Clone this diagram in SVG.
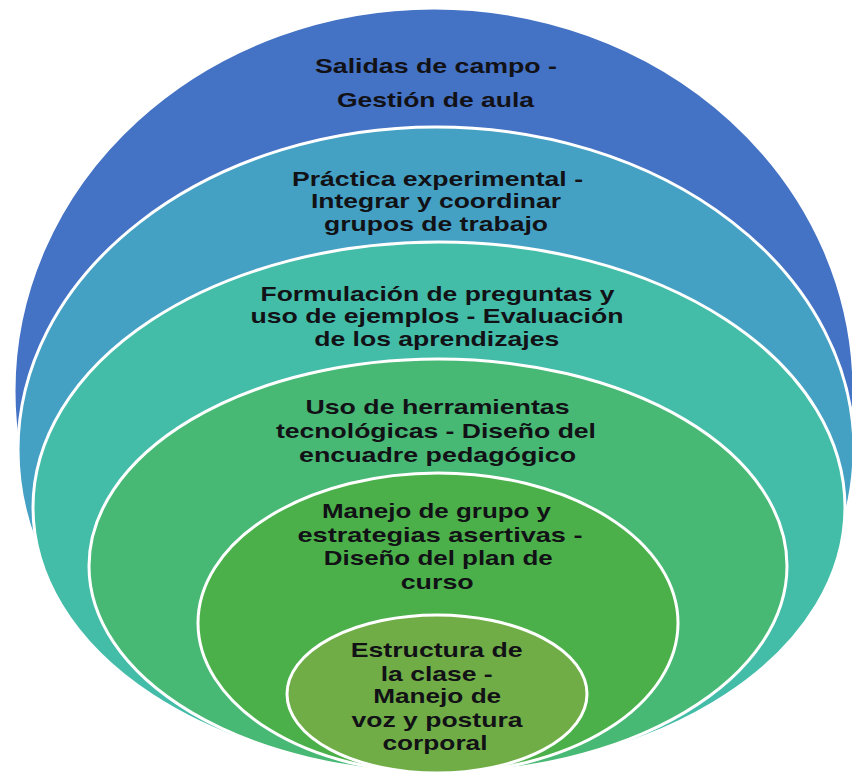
<svg xmlns="http://www.w3.org/2000/svg" width="852" height="778" viewBox="0 0 852 778">
<style>
.ring{stroke:#ffffff;stroke-width:3}
.lbl{font-family:"Liberation Sans",Arial,sans-serif;font-weight:bold;font-size:21px;fill:#111116;text-anchor:middle}
</style>
<rect x="0" y="0" width="852" height="778" fill="#ffffff"/>
<g id="connectors"></g>
<g id="n1">
<ellipse class="ring" cx="434" cy="391" rx="420" ry="383" fill="#4472C4"/>
<text class="lbl" x="436" y="73" textLength="242" lengthAdjust="spacingAndGlyphs">Salidas de campo -</text>
<text class="lbl" x="435.5" y="107" textLength="197" lengthAdjust="spacingAndGlyphs">Gestión de aula</text>
</g>
<g id="n2">
<ellipse class="ring" cx="436" cy="450" rx="418" ry="323" fill="#44A1C4"/>
<text class="lbl" x="437.5" y="185.5" textLength="291" lengthAdjust="spacingAndGlyphs">Práctica experimental -</text>
<text class="lbl" x="436" y="207.7" textLength="250" lengthAdjust="spacingAndGlyphs">Integrar y coordinar</text>
<text class="lbl" x="436" y="230.5" textLength="224" lengthAdjust="spacingAndGlyphs">grupos de trabajo</text>
</g>
<g id="n3">
<ellipse class="ring" cx="439" cy="507.5" rx="406" ry="265.5" fill="#43BCA8"/>
<text class="lbl" x="437.5" y="300.5" textLength="354" lengthAdjust="spacingAndGlyphs">Formulación de preguntas y</text>
<text class="lbl" x="437" y="323.3" textLength="373" lengthAdjust="spacingAndGlyphs">uso de ejemplos - Evaluación</text>
<text class="lbl" x="436.7" y="346" textLength="245" lengthAdjust="spacingAndGlyphs">de los aprendizajes</text>
</g>
<g id="n4">
<ellipse class="ring" cx="438" cy="566" rx="349" ry="207" fill="#48B875"/>
<text class="lbl" x="437.5" y="414" textLength="264" lengthAdjust="spacingAndGlyphs">Uso de herramientas</text>
<text class="lbl" x="436" y="437.7" textLength="320" lengthAdjust="spacingAndGlyphs">tecnológicas - Diseño del</text>
<text class="lbl" x="437.5" y="461.5" textLength="277" lengthAdjust="spacingAndGlyphs">encuadre pedagógico</text>
</g>
<g id="n5">
<ellipse class="ring" cx="438" cy="623" rx="240" ry="150" fill="#4BB04A"/>
<text class="lbl" x="436.5" y="517.7" textLength="229" lengthAdjust="spacingAndGlyphs">Manejo de grupo y</text>
<text class="lbl" x="440" y="541.7" textLength="285" lengthAdjust="spacingAndGlyphs">estrategias asertivas -</text>
<text class="lbl" x="438.3" y="565.3" textLength="229" lengthAdjust="spacingAndGlyphs">Diseño del plan de</text>
<text class="lbl" x="437.2" y="589.3" textLength="73" lengthAdjust="spacingAndGlyphs">curso</text>
</g>
<g id="n6">
<ellipse class="ring" cx="437" cy="694" rx="150" ry="79" fill="#70AD47"/>
<text class="lbl" x="436.7" y="656.7" textLength="172" lengthAdjust="spacingAndGlyphs">Estructura de</text>
<text class="lbl" x="436.7" y="681" textLength="112" lengthAdjust="spacingAndGlyphs">la clase -</text>
<text class="lbl" x="437.2" y="703.3" textLength="128" lengthAdjust="spacingAndGlyphs">Manejo de</text>
<text class="lbl" x="437" y="726.7" textLength="171" lengthAdjust="spacingAndGlyphs">voz y postura</text>
<text class="lbl" x="435" y="750" textLength="105" lengthAdjust="spacingAndGlyphs">corporal</text>
</g>
</svg>
